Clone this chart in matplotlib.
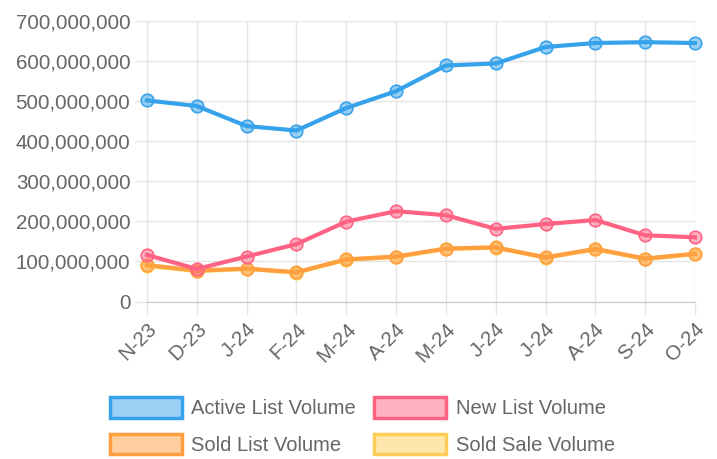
import matplotlib
matplotlib.use("Agg")
import matplotlib.pyplot as plt
from matplotlib.colors import to_rgba
from matplotlib.patches import Patch
from matplotlib.ticker import FuncFormatter, MultipleLocator

# data
months = ["N-23", "D-23", "J-24", "F-24", "M-24", "A-24",
          "M-24", "J-24", "J-24", "A-24", "S-24", "O-24"]
active_list = [501e6, 487e6, 437e6, 426e6, 482e6, 524e6,
               588e6, 593e6, 634e6, 644e6, 646e6, 644e6]
new_list = [116e6, 81e6, 112e6, 143e6, 199e6, 225e6,
            215e6, 181e6, 193e6, 203e6, 165e6, 160e6]
sold_list = [91e6, 77e6, 82e6, 73e6, 105e6, 112e6,
             132e6, 135e6, 110e6, 131e6, 107e6, 119e6]
sold_sale = [89e6, 76e6, 81e6, 72e6, 104e6, 111e6,
             131e6, 134e6, 109e6, 130e6, 106e6, 118e6]

series_names = ["Active List Volume", "New List Volume",
                "Sold List Volume", "Sold Sale Volume"]
colors = ["#36A2EB", "#FF6384", "#FF9F40", "#FFCD56"]
fills = ["#9BD0F5", "#FFB1C1", "#FFCF9F", "#FFE6AA"]

plt.rcParams["font.family"] = ["Liberation Sans", "DejaVu Sans"]
grid_c = "#e5e5e5"
text_c = "#666666"

fig = plt.figure(figsize=(7.17, 4.59), dpi=100)
ax = fig.add_axes([0.2050, 0.3431, 0.7643, 0.6122])

x = list(range(len(months)))
all_series = [active_list, new_list, sold_list, sold_sale]
for i, vals in enumerate(all_series):
    ax.plot(x, vals, color=colors[i], lw=3.0, marker="o", ms=9,
            mfc=to_rgba(colors[i], 0.5), mec=colors[i], mew=1.2,
            zorder=10 - i, clip_on=False)

ax.set_xlim(0, len(months) - 1)
ax.set_ylim(0, 700e6)
ax.yaxis.set_major_locator(MultipleLocator(100e6))
ax.yaxis.set_major_formatter(FuncFormatter(lambda v, p: f"{int(v):,}"))
ax.set_xticks(x)
ax.set_xticklabels(months, rotation=45, ha="right", rotation_mode="anchor")

ax.grid(True, color=grid_c, lw=1)
ax.set_axisbelow(True)
for s in ["top", "right"]:
    ax.spines[s].set_visible(False)
ax.spines["left"].set_color(grid_c)
ax.spines["bottom"].set_color("#c8c8c8")
ax.tick_params(axis="both", colors=grid_c, labelcolor=text_c,
               labelsize=14.8, length=9, width=1)
ax.tick_params(axis="y", pad=3)
ax.tick_params(axis="x", pad=4)

# legend filled row by row, like the original
order = [0, 2, 1, 3]
handles = [Patch(facecolor=fills[i], edgecolor=colors[i], lw=2.5)
           for i in order]
labels = [series_names[i] for i in order]
fig.legend(handles, labels, loc="lower center", ncol=2,
           bbox_to_anchor=(0.505, -0.03), frameon=False, fontsize=14.5,
           labelcolor=text_c, handlelength=3.6, handleheight=1.2,
           handletextpad=0.45, columnspacing=0.9, labelspacing=0.75)

fig.savefig("out.png", dpi=100)
